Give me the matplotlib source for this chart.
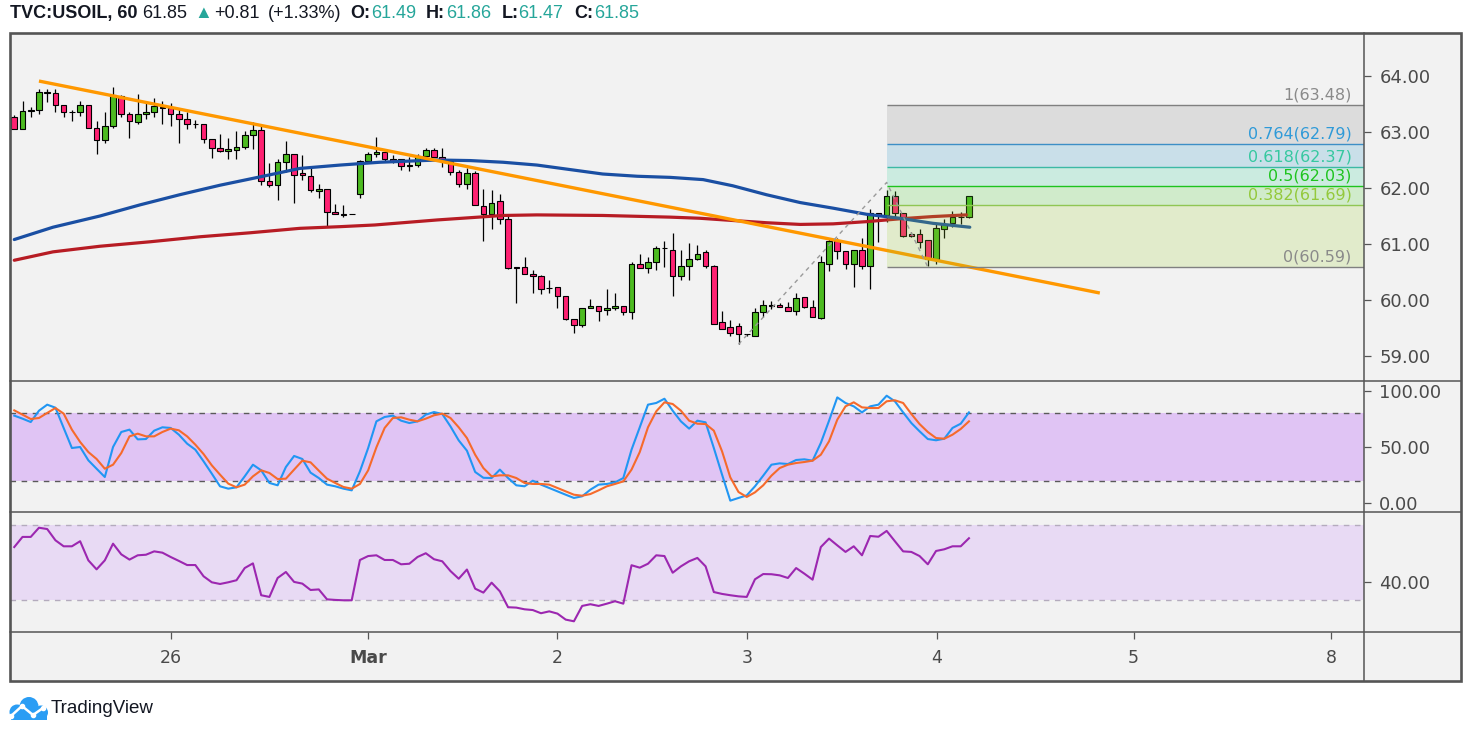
import matplotlib
matplotlib.use('Agg')
import matplotlib.pyplot as plt
import matplotlib.transforms as mtrans
from matplotlib.patches import Rectangle, Circle
from matplotlib.lines import Line2D
from matplotlib import font_manager
import numpy as np

plt.rcParams['font.family'] = ['DejaVu Sans']

# ---------------- data ----------------
opens = [63.26, 63.05, 63.37, 63.39, 63.69, 63.69, 63.48, 63.35, 63.35, 63.49,
         63.08, 62.85, 63.10, 63.65, 63.32, 63.17, 63.32, 63.35, 63.44, 63.42,
         63.32, 63.24, 63.14, 63.14, 62.87, 62.71, 62.66, 62.67, 62.73, 62.94,
         63.03, 62.12, 62.05, 62.46, 62.60, 62.26, 62.21, 61.94, 61.99, 61.58,
         61.53, 61.53, 61.89, 62.48, 62.60, 62.64, 62.51, 62.51, 62.39, 62.41,
         62.57, 62.68, 62.55, 62.49, 62.28, 62.07, 62.26, 61.67, 61.53, 61.76,
         61.44, 60.59, 60.59, 60.46, 60.42, 60.22, 60.24, 60.08, 59.67, 59.55,
         59.85, 59.89, 59.82, 59.85, 59.89, 59.78, 60.64, 60.57, 60.67, 60.92,
         60.90, 60.42, 60.60, 60.74, 60.85, 60.60, 59.60, 59.51, 59.53, 59.39,
         59.36, 59.78, 59.90, 59.92, 59.87, 59.80, 60.05, 59.87, 59.68, 60.65,
         61.05, 60.87, 60.65, 60.89, 60.60, 61.55, 61.51, 61.85, 61.55, 61.17,
         61.17, 61.08, 60.73, 61.26, 61.37, 61.48, 61.49]
highs = [63.30, 63.55, 63.45, 63.76, 63.76, 63.76, 63.48, 63.39, 63.55, 63.49,
         63.19, 63.36, 63.80, 63.66, 63.36, 63.68, 63.51, 63.60, 63.55, 63.51,
         63.41, 63.35, 63.21, 63.14, 62.87, 62.97, 62.89, 63.02, 63.02, 63.17,
         63.10, 62.44, 62.52, 62.84, 62.60, 62.59, 62.36, 62.08, 61.99, 61.71,
         61.70, 61.53, 62.50, 62.64, 62.91, 62.64, 62.59, 62.51, 62.56, 62.61,
         62.71, 62.71, 62.71, 62.51, 62.32, 62.36, 62.31, 61.99, 61.96, 61.90,
         61.53, 60.59, 60.76, 60.54, 60.44, 60.36, 60.24, 60.08, 59.67, 59.85,
         60.02, 59.89, 60.20, 60.13, 59.89, 60.67, 60.83, 60.76, 60.96, 61.06,
         61.20, 60.90, 61.01, 60.98, 60.89, 60.62, 59.80, 59.65, 59.59, 59.40,
         59.85, 60.00, 59.98, 59.94, 59.96, 60.12, 60.05, 60.00, 60.79, 61.10,
         61.10, 60.87, 60.90, 61.11, 61.62, 61.55, 61.96, 61.95, 61.55, 61.22,
         61.26, 61.08, 61.37, 61.44, 61.59, 61.58, 61.86]
lows = [63.05, 63.05, 63.26, 63.32, 63.54, 63.36, 63.26, 63.19, 63.29, 63.08,
        62.61, 62.80, 63.08, 63.26, 62.90, 63.14, 63.23, 63.26, 63.14, 63.10,
        62.81, 63.05, 63.07, 62.80, 62.54, 62.64, 62.51, 62.52, 62.69, 62.69,
        62.05, 62.02, 61.78, 62.29, 61.73, 62.15, 61.93, 61.83, 61.31, 61.53,
        61.49, 61.53, 61.82, 62.44, 62.56, 62.47, 62.44, 62.33, 62.31, 62.37,
        62.56, 62.55, 62.37, 62.23, 62.02, 61.99, 61.69, 61.06, 61.26, 61.36,
        60.55, 59.94, 60.46, 60.13, 60.10, 60.12, 59.85, 59.65, 59.42, 59.51,
        59.85, 59.63, 59.74, 59.82, 59.74, 59.67, 60.57, 60.49, 60.54, 60.59,
        60.08, 60.35, 60.35, 60.71, 60.57, 59.58, 59.48, 59.36, 59.21, 59.35,
        59.35, 59.69, 59.84, 59.87, 59.80, 59.73, 59.85, 59.69, 59.66, 60.51,
        60.74, 60.56, 60.24, 60.56, 60.19, 61.04, 61.39, 61.49, 61.13, 61.13,
        60.93, 60.60, 60.65, 61.10, 61.30, 61.36, 61.47]
closes = [63.05, 63.37, 63.39, 63.72, 63.71, 63.48, 63.35, 63.36, 63.49, 63.08,
          62.85, 63.10, 63.66, 63.33, 63.19, 63.32, 63.35, 63.46, 63.42, 63.33,
          63.23, 63.14, 63.14, 62.87, 62.71, 62.66, 62.69, 62.73, 62.94, 63.03,
          62.12, 62.05, 62.46, 62.60, 62.24, 62.23, 61.96, 61.99, 61.57, 61.53,
          61.51, 61.53, 62.48, 62.60, 62.64, 62.51, 62.49, 62.39, 62.41, 62.57,
          62.68, 62.55, 62.49, 62.28, 62.08, 62.26, 61.69, 61.53, 61.74, 61.44,
          60.57, 60.57, 60.46, 60.42, 60.19, 60.22, 60.08, 59.67, 59.55, 59.85,
          59.89, 59.81, 59.85, 59.89, 59.78, 60.64, 60.57, 60.67, 60.92, 60.92,
          60.42, 60.60, 60.74, 60.83, 60.60, 59.58, 59.49, 59.42, 59.39, 59.39,
          59.78, 59.92, 59.92, 59.88, 59.80, 60.03, 59.87, 59.69, 60.67, 61.05,
          60.87, 60.65, 60.89, 60.60, 61.55, 61.51, 61.85, 61.55, 61.15, 61.15,
          61.03, 60.73, 61.28, 61.35, 61.48, 61.49, 61.85]

ma_blue_x = [0, 4.7, 10.4, 15.3, 20.1, 25.0, 29.9, 34.7, 39.6, 44.4, 51.4, 55.4,
             59.4, 63.5, 67.5, 71.5, 75.7, 79.7, 83.7, 87.3, 91.4, 95.5, 99.5,
             103.6, 107.6, 111.6, 116.1]
ma_blue_y = [61.08, 61.30, 61.50, 61.70, 61.88, 62.05, 62.20, 62.35, 62.41, 62.46,
             62.50, 62.49, 62.46, 62.41, 62.33, 62.25, 62.21, 62.19, 62.15, 62.04,
             61.88, 61.74, 61.64, 61.53, 61.46, 61.37, 61.30]
ma_red_x = [0, 4.7, 10.4, 16.5, 22.6, 28.6, 34.7, 39.6, 43.8, 51.4, 59.4, 63.5,
            71.5, 79.7, 83.3, 87.3, 91.4, 95.5, 99.5, 103.6, 107.6, 111.6, 115.7]
ma_red_y = [60.71, 60.86, 60.96, 61.04, 61.13, 61.20, 61.28, 61.31, 61.34, 61.43,
            61.51, 61.52, 61.51, 61.48, 61.46, 61.42, 61.38, 61.35, 61.36, 61.40,
            61.45, 61.49, 61.52]

trend_x = [3.0, 131.9]
trend_y = [63.91, 60.125]

fib_labels = ['1', '0.764', '0.618', '0.5', '0.382', '0']
fib_prices = [63.48, 62.79, 62.37, 62.03, 61.69, 60.59]
fib_anchor_x = [88, 106, 111]
fib_anchor_y = [59.21, 62.10, 60.59]

stoch_k = [78.0, 75.3, 72.3, 82.4, 87.8, 85.1, 67.0, 49.1, 50.0, 38.1,
           30.6, 23.2, 50.0, 63.4, 65.5, 56.8, 57.1, 64.6, 67.6, 67.0,
           61.0, 53.0, 47.6, 37.2, 26.2, 14.9, 12.8, 14.0, 23.8, 34.2,
           29.2, 17.9, 15.8, 32.1, 42.0, 39.3, 27.1, 22.3, 16.4, 14.9,
           12.8, 11.3, 28.3, 49.1, 72.9, 76.8, 78.0, 73.5, 71.4, 72.9,
           78.9, 81.2, 79.5, 68.4, 55.9, 46.7, 27.7, 22.5, 22.3, 29.8,
           22.3, 15.8, 14.9, 19.9, 16.4, 13.4, 10.4, 7.4, 4.5, 6.0,
           11.9, 16.4, 17.0, 18.4, 22.3, 47.6, 67.6, 87.8, 89.3, 93.1,
           82.4, 72.9, 66.4, 73.5, 72.0, 49.1, 25.3, 2.1, 4.5, 6.8,
           14.9, 24.4, 34.2, 35.4, 34.8, 38.4, 39.0, 37.8, 53.6, 73.5,
           94.3, 89.3, 86.3, 80.9, 86.3, 87.8, 95.8, 90.8, 80.9, 71.4,
           64.0, 57.1, 56.0, 57.4, 67.0, 70.8, 80.9]
stoch_d = [82.7, 78.9, 75.0, 75.9, 80.4, 84.8, 79.8, 65.5, 54.5, 45.5,
           39.3, 30.6, 34.2, 44.6, 59.5, 61.9, 59.5, 59.5, 63.4, 66.4,
           64.9, 59.5, 52.1, 43.7, 33.6, 25.3, 17.3, 14.0, 16.4, 23.8,
           29.2, 26.8, 21.4, 21.7, 29.8, 37.8, 36.3, 28.9, 21.7, 17.9,
           14.3, 12.8, 17.0, 29.2, 49.7, 67.0, 75.9, 76.5, 74.4, 72.9,
           75.3, 78.3, 79.8, 75.9, 67.6, 58.0, 43.1, 31.2, 23.8, 24.7,
           24.7, 22.3, 17.9, 17.0, 17.0, 16.4, 13.4, 10.4, 7.4, 6.5,
           8.0, 11.3, 14.9, 17.0, 19.3, 29.8, 45.5, 67.6, 81.8, 89.9,
           88.4, 82.4, 73.5, 70.8, 70.5, 64.6, 46.1, 22.9, 9.8, 5.4,
           9.5, 15.8, 24.4, 31.2, 34.2, 35.7, 36.6, 37.8, 43.1, 55.1,
           74.4, 86.3, 89.9, 85.4, 84.8, 84.8, 90.8, 91.7, 89.3, 79.5,
           70.5, 63.4, 58.0, 57.4, 61.0, 66.1, 72.9]
rsi = [58.4, 63.8, 63.8, 68.7, 68.0, 62.0, 58.8, 58.8, 61.5, 51.3,
       46.5, 51.3, 60.2, 54.5, 51.7, 54.0, 54.3, 56.1, 55.4, 53.1,
       51.0, 48.8, 48.8, 42.8, 39.6, 38.7, 39.6, 40.7, 47.2, 49.7,
       32.7, 31.8, 41.9, 45.1, 39.8, 38.9, 35.5, 35.8, 30.5, 30.2,
       30.0, 30.0, 51.5, 53.6, 54.0, 51.5, 51.5, 49.2, 49.5, 53.1,
       55.1, 51.9, 50.8, 45.6, 41.5, 46.4, 36.2, 34.1, 39.4, 34.8,
       26.3, 26.1, 25.2, 24.8, 23.1, 24.1, 22.9, 19.7, 18.8, 27.0,
       27.9, 27.0, 28.2, 29.5, 28.2, 48.7, 47.4, 49.5, 54.0, 53.6,
       44.7, 48.1, 50.8, 52.6, 48.1, 34.4, 33.4, 32.7, 32.1, 31.8,
       41.2, 44.0, 43.9, 43.3, 41.9, 47.2, 44.2, 41.0, 58.4, 62.9,
       59.3, 55.8, 58.8, 54.0, 64.3, 63.9, 67.0, 61.5, 56.1, 55.8,
       53.6, 49.2, 56.3, 57.2, 58.8, 58.8, 63.1]

day_ticks = [19.0, 43.0, 66.0, 89.0, 112.1, 136.0, 160.0]
day_labels = ['26', 'Mar', '2', '3', '4', '5', '8']
price_ticks = [59, 60, 61, 62, 63, 64]
stoch_ticks = [0, 50, 100]
rsi_ticks = [40]

# ---------------- figure ----------------
W, H = 1471, 736
fig = plt.figure(figsize=(W / 100, H / 100), dpi=100, facecolor='white')
pix = mtrans.Affine2D().scale(1, -1).translate(0, H)


def fx(x):
    return x / W


def fy(y):
    return 1 - y / H


FRAME_L, FRAME_R, FRAME_T, FRAME_B = 10, 1461, 33, 681
PL, PR = 10, 1364

fig.add_artist(Rectangle((FRAME_L, FRAME_T), FRAME_R - FRAME_L, FRAME_B - FRAME_T,
                         transform=pix, facecolor='#f2f2f2', edgecolor='none', zorder=0))

XMIN, XMAX = -0.52, 164.0
AXC = '#4a4a4a'


def add_ax(top, bottom):
    ax = fig.add_axes([fx(PL), fy(bottom), fx(PR) - fx(PL), fy(top) - fy(bottom)])
    ax.set_facecolor('none')
    for s in ax.spines.values():
        s.set_visible(False)
    ax.set_xlim(XMIN, XMAX)
    ax.yaxis.tick_right()
    ax.tick_params(axis='y', direction='out', length=5, width=0.9, color='#555555',
                   pad=6, labelsize=13, labelcolor=AXC)
    return ax


ax1 = add_ax(33, 381)
ax2 = add_ax(381, 512)
ax3 = add_ax(512, 632)

# ---- main pane ----
ax1.set_ylim(58.554, 64.768)
ax1.set_yticks(price_ticks)
ax1.set_yticklabels(['%.2f' % v for v in price_ticks])
ax1.set_xticks([])

x = np.arange(len(opens))
o = np.array(opens)
c = np.array(closes)
up = c >= o
cols = np.where(up, '#4dbb21', '#fe2172')
ax1.vlines(x, lows, highs, color='#000000', lw=0.9, zorder=3)
ax1.bar(x, np.abs(c - o), bottom=np.minimum(o, c), width=0.68, color=cols,
        edgecolor='#000000', linewidth=0.8, zorder=4)

ax1.plot(ma_red_x, ma_red_y, color='#b71c24', lw=2.3, zorder=5, solid_capstyle='round')
ax1.plot(ma_blue_x, ma_blue_y, color='#1a4fa3', lw=2.3, zorder=5, solid_capstyle='round')
ax1.plot(trend_x, trend_y, color='#ff9800', lw=2.4, zorder=5.5, solid_capstyle='butt')

# fib
fib_line_cols = ['#808080', '#3d8fc6', '#3cb9a5', '#1ec31e', '#8fc653', '#808080']
fib_fill_cols = ['#848484', '#2593c5', '#2fcf98', '#48cf2f', '#9dcf2f']
fib_text_cols = ['#8a8a8a', '#2f9ad8', '#36c8a0', '#1fc41f', '#94c93c', '#8a8a8a']
fx0 = fib_anchor_x[1]
for i in range(len(fib_prices) - 1):
    ax1.fill_between([fx0, XMAX], fib_prices[i + 1], fib_prices[i],
                     color=fib_fill_cols[i], alpha=0.2, lw=0, zorder=6)
for p, lc in zip(fib_prices, fib_line_cols):
    ax1.hlines(p, fx0, XMAX, color=lc, lw=1.0, zorder=6.5)
ax1.plot(fib_anchor_x, fib_anchor_y, color='#9a9a9a', lw=1.0, ls=(0, (3, 3)), zorder=6.6)
lab_tr = mtrans.offset_copy(ax1.transData, fig=fig, x=0, y=10, units='dots')
for lab, p, tc in zip(fib_labels, fib_prices, fib_text_cols):
    ax1.text(162.5, p, '%s(%.2f)' % (lab, p), transform=lab_tr, ha='right', va='center',
             fontsize=11.5, color=tc, zorder=8)

# ---- stochastic ----
ax2.set_ylim(-8.04, 108.93)
ax2.set_yticks(stoch_ticks)
ax2.set_yticklabels(['%.2f' % v for v in stoch_ticks])
ax2.set_xticks([])
ax2.fill_between([XMIN, XMAX], 20, 80, color='#e0c4f4', lw=0, zorder=1)
ax2.hlines([20, 80], XMIN, XMAX, colors='#5a5a5a', lw=1.0, linestyles=(0, (4, 4)), zorder=2)
ax2.plot(x, stoch_k, color='#2196f3', lw=1.5, zorder=3)
ax2.plot(x, stoch_d, color='#f66a2b', lw=1.5, zorder=4)

# ---- RSI ----
ax3.set_ylim(13.09, 77.09)
ax3.set_yticks(rsi_ticks)
ax3.set_yticklabels(['%.2f' % v for v in rsi_ticks])
ax3.fill_between([XMIN, XMAX], 30, 70, color='#e8daf4', lw=0, zorder=1)
ax3.hlines([30, 70], XMIN, XMAX, colors='#b4abbd', lw=1.0, linestyles=(0, (4, 4)), zorder=2)
ax3.plot(x, rsi, color='#9c27b0', lw=1.5, zorder=3)
ax3.set_xticks(day_ticks)
ax3.set_xticklabels(day_labels)
ax3.tick_params(axis='x', direction='out', length=5, width=0.9, color='#555555',
                pad=7, labelsize=12.5, labelcolor=AXC)
for t in ax3.get_xticklabels():
    if t.get_text() == 'Mar':
        t.set_fontweight('bold')

# ---- frame & separators ----
sep = dict(transform=pix, color='#555555', lw=1.1, zorder=10)
for yy in (381, 512, 632):
    fig.add_artist(Line2D([FRAME_L, FRAME_R], [yy, yy], **sep))
fig.add_artist(Line2D([PR, PR], [FRAME_T, FRAME_B], **sep))
fig.add_artist(Rectangle((FRAME_L, FRAME_T), FRAME_R - FRAME_L, FRAME_B - FRAME_T,
                         transform=pix, facecolor='none', edgecolor='#555555', lw=1.9,
                         zorder=11))

# ---- header ----
names = {f.name for f in font_manager.fontManager.ttflist}
hfam = ['Liberation Sans', 'DejaVu Sans'] if 'Liberation Sans' in names else ['DejaVu Sans']
DARK = '#131722'
TEAL = '#26a69a'
header = [
    ('TVC:USOIL, 60', 10, DARK, 'bold'),
    ('61.85', 142, DARK, 'normal'),
    ('\u25B2', 194, TEAL, 'normal'),
    ('+0.81', 214, DARK, 'normal'),
    ('(+1.33%)', 268, DARK, 'normal'),
    ('O:', 350, DARK, 'bold'),
    ('61.49', 371, TEAL, 'normal'),
    ('H:', 426, DARK, 'bold'),
    ('61.86', 446, TEAL, 'normal'),
    ('L:', 502, DARK, 'bold'),
    ('61.47', 518, TEAL, 'normal'),
    ('C:', 574, DARK, 'bold'),
    ('61.85', 594, TEAL, 'normal'),
]
for txt, hx, col, wt in header:
    fig.text(hx, 18, txt, transform=pix, ha='left', va='baseline', fontsize=13,
             color=col, fontweight=wt, family=hfam)

# ---- TradingView logo ----
LOGO = '#2a9df4'
for (cx, cy, r) in [(17, 712, 7.5), (29, 706.5, 9.5), (41, 712.5, 7)]:
    fig.add_artist(Circle((cx, cy), r, transform=pix, facecolor=LOGO, edgecolor='none', zorder=5))
fig.add_artist(Rectangle((11, 711), 36, 9, transform=pix, facecolor=LOGO,
                         edgecolor='none', zorder=5))
fig.add_artist(Line2D([11, 22, 33, 43], [716, 706, 715, 708], transform=pix,
                      color='white', lw=1.8, zorder=6, marker='o', markersize=3,
                      markerfacecolor='white', markeredgecolor='white'))
fig.text(51, 708.5, 'TradingView', transform=pix, ha='left', va='center', fontsize=13.5,
         color=DARK, family=hfam)

fig.savefig('out.png', dpi=100, facecolor='white')
